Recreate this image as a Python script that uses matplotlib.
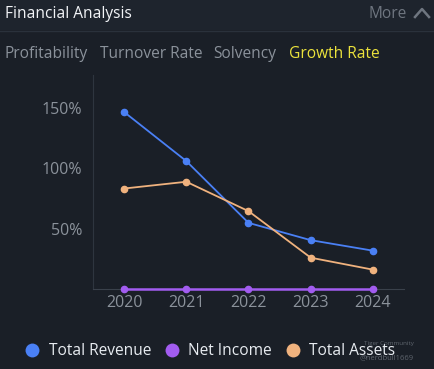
import matplotlib
matplotlib.use('Agg')
import matplotlib.pyplot as plt
from matplotlib.lines import Line2D

plt.rcParams['font.family'] = ['Open Sans', 'DejaVu Sans']

years = ['2020', '2021', '2022', '2023', '2024']
total_revenue = [146.4, 105.8, 54.7, 40.4, 31.7]
net_income = [0, 0, 0, 0, 0]
total_assets = [83.1, 88.7, 64.4, 25.9, 16.0]
y_ticks = [50, 100, 150]
tabs = ['Profitability', 'Turnover Rate', 'Solvency', 'Growth Rate']

bg = '#1a1f27'
head_bg = '#1e242d'
grey = '#8b929b'
c_rev = '#4a80f5'
c_ni = '#a25cf0'
c_ta = '#f0b27e'

W, H = 435, 369
fig = plt.figure(figsize=(W / 100, H / 100), dpi=100, facecolor=bg)

# header band
fig.patches.append(plt.Rectangle((0, 1 - 30 / H), 1, 30 / H, transform=fig.transFigure,
                                 facecolor=head_bg, edgecolor='none', zorder=0))
fig.add_artist(Line2D([0, 1], [1 - 30.5 / H] * 2, color='#2a313b', lw=1))
fig.text(5 / W, 1 - 14 / H, 'Financial Analysis', color='#f2f4f7', fontsize=11.2, va='center')
fig.text(369 / W, 1 - 14 / H, 'More', color='#6f7680', fontsize=11.2, va='center')
fig.add_artist(Line2D([415 / W, 422 / W, 429 / W], [1 - 17 / H, 1 - 9 / H, 1 - 17 / H],
                      color='#6f7680', lw=1.8))

tab_x = [5, 100, 213, 289]
for t, x in zip(tabs, tab_x):
    col = '#ece33c' if t == 'Growth Rate' else grey
    fig.text(x / W, 1 - 54 / H, t, color=col, fontsize=11.2, va='center')

ax = fig.add_axes([93 / W, 1 - 289 / H, (404 - 93) / W, (289 - 75) / H])
ax.set_facecolor(bg)
xs = range(len(years))
ax.plot(xs, total_revenue, color=c_rev, lw=1.3, marker='o', ms=4.5, zorder=3)
ax.plot(xs, total_assets, color=c_ta, lw=1.3, marker='o', ms=4.5, zorder=3)
ax.plot(xs, net_income, color=c_ni, lw=1.8, marker='o', ms=4.5, zorder=4, clip_on=False)
ax.set_xlim(-0.5, len(years) - 0.5)
ax.set_ylim(0, 177)
ax.set_xticks(list(xs))
ax.set_xticklabels(years)
ax.set_yticks(y_ticks)
ax.set_yticklabels([f'{v}%' for v in y_ticks])
ax.tick_params(length=0, colors=grey, labelsize=11.5)
ax.tick_params(axis='y', pad=8)
ax.tick_params(axis='x', pad=4)
for s in ['top', 'right']:
    ax.spines[s].set_visible(False)
ax.spines['left'].set_color('#2e353f')
ax.spines['bottom'].set_color('#3a414b')

handles = [Line2D([], [], ls='none', marker='o', ms=10, color=c, mec='none') for c in (c_rev, c_ni, c_ta)]
leg = fig.legend(handles, ['Total Revenue', 'Net Income', 'Total Assets'], loc='center',
                 bbox_to_anchor=(210 / W, 1 - 351 / H), ncol=3, frameon=False, fontsize=11.2,
                 handlelength=1.0, handletextpad=0.55, columnspacing=0.85, labelcolor='#e8ecf1')

# watermark
fig.text(414 / W, 1 - 344 / H, 'Tiger Community', color='#7c838c', fontsize=4.5, ha='right', va='center', alpha=0.7)
fig.text(414 / W, 1 - 358 / H, '@nerdbull1669', color='#7c838c', fontsize=5.5, ha='right', va='center', alpha=0.7)

fig.savefig('out.png', dpi=100, facecolor=bg)
